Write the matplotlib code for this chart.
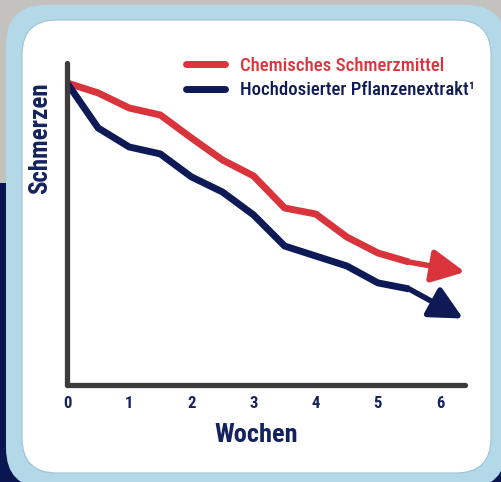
import numpy as np
import matplotlib
matplotlib.use('agg')
import matplotlib.pyplot as plt
from matplotlib.patches import FancyBboxPatch, Rectangle

# data (pain scale 0..100, weeks)
weeks = [0, 0.5, 1, 1.5, 2, 2.5, 3, 3.5, 4, 4.5, 5, 5.5]
chem = [100, 96.7, 91.7, 89.4, 81.8, 74.5, 69.2, 58.6, 56.6, 49.0, 43.7, 40.7]
plant = [100, 85.1, 78.8, 76.5, 68.9, 63.9, 56.3, 46.0, 42.7, 39.4, 33.8, 31.8]
# where the arrow heads end
tip_week = [6.4, 6.37]
tip_val = [37.4, 22.0]
labels = ['Chemisches Schmerzmittel', 'Hochdosierter Pflanzenextrakt¹']
xticks = [0, 1, 2, 3, 4, 5, 6]

RED = '#d9343c'
NAVY = '#0e1a56'
TEXT = '#14225e'
FONT = ['Roboto Condensed', 'Liberation Sans Narrow', 'Liberation Sans', 'DejaVu Sans']

plt.rcParams['font.family'] = FONT

fig = plt.figure(figsize=(5.02, 4.82), dpi=100)
fig.patch.set_facecolor('#0a1650')

# background: photo-ish gray on top, rounded light blue frame, white card
inch = fig.dpi_scale_trans
fig.patches.append(Rectangle((0, 2.99), 5.02, 1.83, transform=inch,
                             facecolor='#c4c2be', edgecolor='none', zorder=-3))
fig.patches.append(FancyBboxPatch((0.06 + 0.4, -0.06 + 0.4), 5.0 - 0.8, 4.83 - 0.8,
                                  boxstyle='round,pad=0.4', transform=inch,
                                  facecolor='#b3d8e8', edgecolor='none', zorder=-2))
fig.patches.append(FancyBboxPatch((0.22 + 0.35, 0.09 + 0.35), 4.69 - 0.7, 4.53 - 0.7,
                                  boxstyle='round,pad=0.35', transform=inch,
                                  facecolor='white', edgecolor='#9fc3d6', lw=0.8, zorder=-1))

ax = fig.add_axes([67 / 502, 97 / 482, 398 / 502, 322 / 482])
ax.set_facecolor('none')

series = [(chem, RED), (plant, NAVY)]
for i, (vals, col) in enumerate(series):
    ax.plot(weeks, vals, color=col, lw=5, solid_joinstyle='miter',
            solid_capstyle='butt', label=labels[i], zorder=3)
    ax.annotate('', xy=(tip_week[i], tip_val[i]), xytext=(weeks[-1], vals[-1]),
                arrowprops=dict(arrowstyle='-|>,head_length=1.0,head_width=0.5',
                                color=col, lw=4, shrinkA=0, shrinkB=0,
                                mutation_scale=20),
                zorder=3)

ax.set_xlim(0, 6.4)
ax.set_ylim(0, 106.6)
for s in ['top', 'right']:
    ax.spines[s].set_visible(False)
for s in ['left', 'bottom']:
    ax.spines[s].set_linewidth(3.8)
    ax.spines[s].set_color('#3c3c3c')
    ax.spines[s].set_capstyle('round')
    ax.spines[s].set_zorder(4)

ax.set_xticks(xticks)
ax.set_xticklabels([str(t) for t in xticks], fontsize=12, fontweight='bold', color=TEXT)
ax.tick_params(axis='x', length=0, pad=8)
ax.set_yticks([])

fig.text(40 / 502, 1 - 138 / 482, 'Schmerzen', rotation=90, ha='center', va='center',
         fontsize=18, fontweight='bold', color=TEXT)
fig.text(256 / 502, 1 - 435 / 482, 'Wochen', ha='center', va='center',
         fontsize=19, fontweight='bold', color=TEXT)

leg = ax.legend(loc='upper left', bbox_to_anchor=(0.3, 1.02), frameon=False,
                borderaxespad=0, borderpad=0, handlelength=2.05, handletextpad=0.8,
                labelspacing=0.35, prop={'family': FONT, 'size': 13.5, 'weight': 'medium'})
for txt, (_, col) in zip(leg.get_texts(), series):
    txt.set_color(col)
for h in leg.get_lines():
    h.set_linewidth(5)
    h.set_solid_capstyle('round')

fig.savefig('out.png', dpi=100)
